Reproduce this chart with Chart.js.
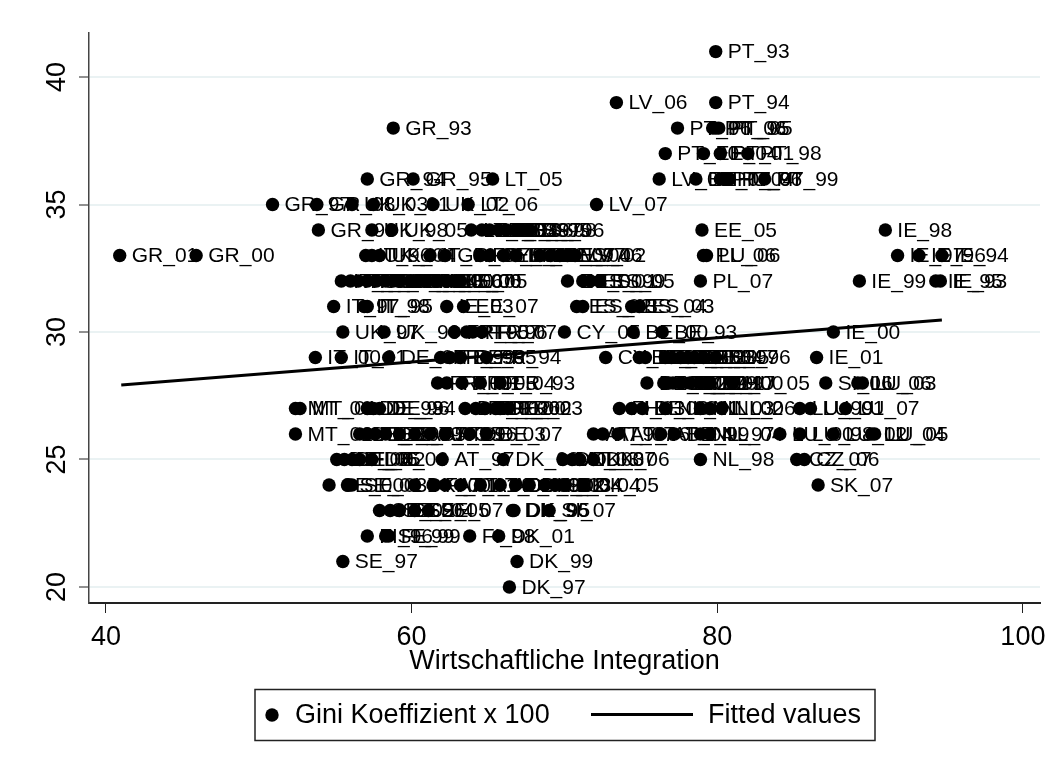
<!DOCTYPE html>
<html>
<head>
<meta charset="utf-8">
<style>
  html, body { margin: 0; background: #fff; }
  canvas { display: block; }
</style>
<script src="https://cdn.jsdelivr.net/npm/chart.js@4"></script>
</head>
<body>
<canvas id="chart" width="1057" height="772"></canvas>
<script>
const xTicks = [40, 60, 80, 100];
const yTicks = [20, 25, 30, 35, 40];
const fitX = [41, 94.7];
const fitY = [27.92, 30.47];

const pointLabels = [
  'PT_93',
  'LV_06', 'PT_94',
  'GR_93', 'PT_96', 'PT_06', 'PT_95', 'PT_05',
  'PT_00', 'EE_04', 'PT_01', 'PT_98',
  'GR_94', 'GR_95', 'LT_05', 'LV_05', 'EE_07', 'PT_04', 'HU_06', 'PT_97', 'PT_99',
  'GR_97', 'GR_98', 'UK_03', 'UK_01', 'UK_02', 'LT_06', 'LV_07',
  'GR_99', 'UK_98', 'UK_05', 'LT_03', 'EE_03', 'LT_04', 'EE_06', 'ES_97', 'ES_95', 'ES_98', 'ES_96', 'EE_05', 'IE_98',
  'GR_01', 'GR_00', 'IT_96', 'UK_96', 'UK_04', 'IT_06', 'GR_06', 'FR_97', 'CY_06', 'EE_02', 'LT_02', 'ES_07', 'EE_97', 'LV_04', 'ES_06', 'LV_02', 'PL_06', 'LU_06', 'IE_97', 'IE_96', 'IE_94',
  'IT_99', 'IT_02', 'IT_04', 'IT_03', 'IT_05', 'GR_02', 'GR_03', 'GR_04', 'GR_05', 'UK_00', 'UK_06', 'UK_07', 'EE_00', 'IE_06', 'IE_05',
  'ES_00', 'ES_01', 'ES_99', 'ES_05', 'PL_07', 'IE_99', 'IE_95', 'IE_93',
  'IT_97', 'IT_98', 'IT_95', 'IE_03', 'EE_07', 'ES_02', 'ES_93', 'ES_04', 'ES_03',
  'UK_97', 'UK_99', 'FR_95', 'PT_07', 'FR_96', 'FR_07', 'CY_05', 'BE_00', 'BE_93', 'IE_00',
  'IT_00', 'IT_01', 'DE_00', 'FR_99', 'FR_98', 'DE_95', 'FR_94', 'CY_07', 'BE_01', 'BE_94', 'BE_95', 'BE_02', 'BE_03', 'BE_04', 'BE_05', 'BE_97', 'BE_96', 'IE_01',
  'FR_00', 'FR_01', 'FR_05', 'FR_04', 'FR_93', 'BE_07', 'BE_06', 'HU_97', 'CZ_99', 'HU_99', 'CZ_01', 'CZ_97', 'NL_00', 'HU_05', 'SI_06', 'LU_06', 'LU_03',
  'MT_00', 'MT_01', 'DE_93', 'DE_96', 'DE_94', 'DE_01', 'FR_02', 'FR_06', 'DE_02', 'FI_00', 'FR_03', 'FI_03', 'HU_03', 'BE_98', 'NL_01', 'NL_03', 'NL_02', 'NL_06', 'LU_99', 'LU_01', 'LU_07',
  'MT_02', 'DE_97', 'FI_05', 'DE_98', 'DE_99', 'SI_05', 'AT_93', 'AT_95', 'AT_96', 'DE_03', 'DE_07', 'AT_98', 'AT_07', 'AT_06', 'AT_04', 'BE_99', 'NL_97', 'NL_04', 'LU_00', 'LU_98', 'LU_02', 'LU_04', 'LU_05',
  'DE_04', 'DE_05', 'FI_06', 'FI_02', 'DE_06', 'AT_97', 'DK_98', 'DK_03', 'AT_03', 'DK_07', 'DK_06', 'NL_98', 'CZ_07', 'CZ_06',
  'SE_00', 'SE_01', 'SE_03', 'DK_00', 'FI_01', 'AT_01', 'AT_99', 'AT_02', 'AT_00', 'DK_93', 'DK_02', 'SI_03', 'SI_04', 'DK_04', 'DK_05', 'SK_07',
  'SE_02', 'SE_96', 'SE_04', 'SE_05', 'SE_07', 'DK_96', 'DK_95', 'SI_07',
  'FI_96', 'SE_99', 'FI_99', 'FI_98', 'DK_01',
  'SE_97', 'DK_99',
  'DK_97'
];
const integration = [
  79.9,
  73.4, 79.9,
  58.8, 77.4, 79.7, 79.9, 80.1,
  76.6, 79.1, 80.2, 82.0,
  57.1, 60.1, 65.3, 76.2, 78.6, 80.2, 80.5, 80.8, 83.1,
  50.9, 53.8, 56.1, 57.5, 61.4, 63.7, 72.1,
  53.9, 57.4, 58.7, 63.9, 64.6, 65.1, 65.7, 66.2, 66.8, 67.2, 67.7, 79.0, 91.0,
  40.9, 45.9, 57.0, 57.4, 57.9, 61.2, 62.2, 64.5, 65.1, 66.0, 66.8, 68.4, 69.1, 69.7, 70.2, 70.7, 79.1, 79.3, 91.8, 93.2, 94.7,
  55.4, 56.0, 56.5, 57.1, 57.7, 58.3, 58.8, 59.2, 59.9, 60.4, 61.0, 61.7, 62.3, 62.8, 63.2,
  70.2, 71.2, 71.7, 72.3, 78.9, 89.3, 94.3, 94.6,
  54.9, 56.9, 57.1, 62.3, 63.4, 70.8, 71.2, 74.4, 74.9,
  55.5, 58.2, 62.8, 63.6, 64.0, 64.6, 70.0, 74.5, 76.4, 87.6,
  53.7, 55.4, 58.5, 61.9, 62.5, 63.2, 64.9, 72.7, 74.9, 75.3, 76.6, 77.0, 77.6, 78.1, 78.5, 79.1, 79.9, 86.5,
  61.7, 62.3, 63.3, 64.5, 65.8, 75.4, 76.5, 76.8, 77.1, 77.6, 78.2, 78.9, 79.5, 81.0, 87.1, 89.2, 89.5,
  52.4, 52.7, 57.1, 57.5, 57.9, 63.5, 64.2, 64.8, 65.5, 65.8, 66.3, 73.6, 74.4, 75.1, 76.6, 78.9, 79.5, 80.3, 85.4, 86.1, 88.4,
  52.4, 56.6, 57.1, 57.6, 58.3, 59.2, 60.2, 61.2, 62.2, 63.8, 64.9, 71.9, 72.5, 73.5, 76.3, 77.2, 78.9, 79.5, 84.1, 85.4, 87.6, 90.1, 90.3,
  55.1, 55.6, 56.1, 56.6, 57.4, 62.0, 66.0, 69.9, 70.5, 71.0, 71.9, 78.9, 85.2, 85.7,
  54.6, 55.8, 56.1, 60.2, 61.4, 62.2, 63.2, 64.5, 65.8, 66.8, 67.7, 68.7, 69.4, 70.0, 71.2, 86.6,
  57.9, 58.6, 59.2, 60.2, 61.1, 66.6, 66.7, 69.0,
  57.1, 58.3, 58.5, 63.8, 65.7,
  55.5, 66.9,
  66.4
];
const gini = [
  41,
  39, 39,
  38, 38, 38, 38, 38,
  37, 37, 37, 37,
  36, 36, 36, 36, 36, 36, 36, 36, 36,
  35, 35, 35, 35, 35, 35, 35,
  34, 34, 34, 34, 34, 34, 34, 34, 34, 34, 34, 34, 34,
  33, 33, 33, 33, 33, 33, 33, 33, 33, 33, 33, 33, 33, 33, 33, 33, 33, 33, 33, 33, 33,
  32, 32, 32, 32, 32, 32, 32, 32, 32, 32, 32, 32, 32, 32, 32,
  32, 32, 32, 32, 32, 32, 32, 32,
  31, 31, 31, 31, 31, 31, 31, 31, 31,
  30, 30, 30, 30, 30, 30, 30, 30, 30, 30,
  29, 29, 29, 29, 29, 29, 29, 29, 29, 29, 29, 29, 29, 29, 29, 29, 29, 29,
  28, 28, 28, 28, 28, 28, 28, 28, 28, 28, 28, 28, 28, 28, 28, 28, 28,
  27, 27, 27, 27, 27, 27, 27, 27, 27, 27, 27, 27, 27, 27, 27, 27, 27, 27, 27, 27, 27,
  26, 26, 26, 26, 26, 26, 26, 26, 26, 26, 26, 26, 26, 26, 26, 26, 26, 26, 26, 26, 26, 26, 26,
  25, 25, 25, 25, 25, 25, 25, 25, 25, 25, 25, 25, 25, 25,
  24, 24, 24, 24, 24, 24, 24, 24, 24, 24, 24, 24, 24, 24, 24, 24,
  23, 23, 23, 23, 23, 23, 23, 23,
  22, 22, 22, 22, 22,
  21, 21,
  20
];

const FONT = '"Liberation Sans", Arial, sans-serif';

// marker labels, drawn right of every dot
const pointLabelPlugin = {
  id: 'pointLabels',
  afterDatasetsDraw(chart) {
    const ctx = chart.ctx;
    ctx.save();
    ctx.font = '21px ' + FONT;
    ctx.fillStyle = '#000';
    ctx.textBaseline = 'middle';
    ctx.textAlign = 'left';
    chart.getDatasetMeta(0).data.forEach((pt, i) => {
      ctx.fillText(pointLabels[i], pt.x + 12, pt.y + 1);
    });
    ctx.restore();
  }
};

// stata style legend box under the plot
const legendBoxPlugin = {
  id: 'legendBox',
  afterDraw(chart) {
    const ctx = chart.ctx;
    ctx.save();
    ctx.strokeStyle = '#222';
    ctx.lineWidth = 1.5;
    ctx.strokeRect(255, 689.5, 620, 51);
    ctx.fillStyle = '#000';
    ctx.beginPath();
    ctx.arc(272, 715, 6.7, 0, Math.PI * 2);
    ctx.fill();
    ctx.strokeStyle = '#000';
    ctx.lineWidth = 3;
    ctx.beginPath();
    ctx.moveTo(591, 714.5);
    ctx.lineTo(693, 714.5);
    ctx.stroke();
    ctx.font = '27px ' + FONT;
    ctx.textBaseline = 'middle';
    ctx.fillText('Gini Koeffizient x 100', 295, 716);
    ctx.fillText('Fitted values', 708, 716);
    ctx.restore();
  }
};

new Chart(document.getElementById('chart'), {
  type: 'scatter',
  data: {
    datasets: [
      {
        label: 'Gini Koeffizient x 100',
        data: integration.map((x, i) => ({ x: x, y: gini[i] })),
        backgroundColor: '#000',
        borderColor: '#000',
        pointRadius: 6.7,
        pointBorderWidth: 0
      },
      {
        type: 'line',
        label: 'Fitted values',
        data: fitX.map((x, i) => ({ x: x, y: fitY[i] })),
        borderColor: '#000',
        borderWidth: 3,
        pointRadius: 0,
        tension: 0
      }
    ]
  },
  options: {
    responsive: false,
    animation: false,
    layout: { padding: { top: 33, right: 17, left: 0, bottom: 0 } },
    plugins: { legend: { display: false }, tooltip: { enabled: false } },
    scales: {
      x: {
        type: 'linear',
        min: 38.89,
        max: 101.12,
        afterBuildTicks(axis) { axis.ticks = xTicks.map(v => ({ value: v })); },
        afterFit(axis) { axis.height = 169; },
        grid: { drawOnChartArea: false, tickColor: '#222', tickLength: 10, tickWidth: 1 },
        border: { color: '#222', width: 2 },
        ticks: { color: '#000', font: { family: FONT, size: 27 }, padding: 8, maxRotation: 0, autoSkip: false },
        title: { display: true, text: 'Wirtschaftliche Integration', color: '#000', font: { family: FONT, size: 27 }, padding: { top: 0, bottom: 94 } }
      },
      y: {
        min: 19.37,
        max: 41.73,
        afterBuildTicks(axis) { axis.ticks = yTicks.map(v => ({ value: v })); },
        afterFit(axis) { axis.width = 89; },
        grid: { color: '#eaf2f3', lineWidth: 2, tickColor: '#222', tickLength: 10, tickWidth: 1 },
        border: { color: '#444', width: 1.5 },
        ticks: { color: '#000', font: { family: FONT, size: 27 }, padding: 6, crossAlign: 'center', minRotation: 90, maxRotation: 90, autoSkip: false }
      }
    }
  },
  plugins: [pointLabelPlugin, legendBoxPlugin]
});
</script>
</body>
</html>
